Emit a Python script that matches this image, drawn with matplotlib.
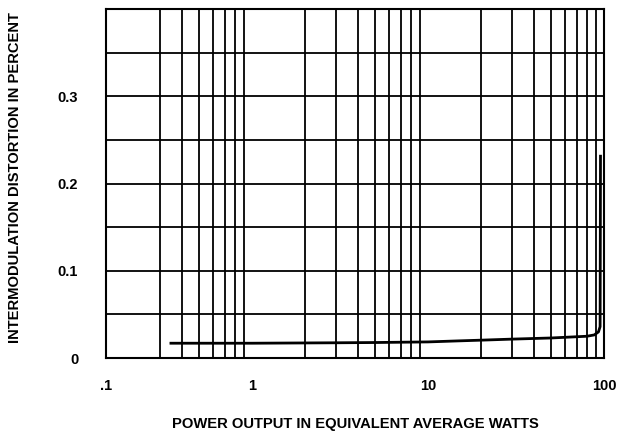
import matplotlib
matplotlib.use("Agg")
import matplotlib.pyplot as plt
from matplotlib.ticker import FixedLocator, MultipleLocator, NullFormatter

plt.rcParams['font.family'] = ['Liberation Sans', 'DejaVu Sans']

# distortion curve (watts, percent)
power_w = [0.34, 1, 3, 5, 10, 15, 20, 30, 50, 80, 88, 93, 95, 95.5]
imd_pct = [0.017, 0.017, 0.0175, 0.0178, 0.0185, 0.0197, 0.0205, 0.0217,
           0.023, 0.025, 0.0265, 0.030, 0.036, 0.233]

# the scan puts ".1" at the left edge of the paper
x_ticks = [0.148, 1, 10, 100]
x_labels = ['.1', '1', '10', '100']
x_grid = [0.3, 0.4, 0.5, 0.6, 0.7, 0.8, 0.9,
          2, 3, 4, 5, 6, 7, 8, 9,
          20, 30, 40, 50, 60, 70, 80, 90]
y_ticks = [0, 0.1, 0.2, 0.3]
y_labels = ['0', '0.1', '0.2', '0.3']

fig = plt.figure(figsize=(6.19, 4.34), dpi=100)
ax = fig.add_axes([0.1712, 0.175, 0.8046, 0.804])

ax.plot(power_w, imd_pct, color='black', lw=2.0, solid_capstyle='butt')

ax.set_xscale('log')
ax.set_xlim(0.148, 100)
ax.set_ylim(0, 0.4)

ax.xaxis.set_major_locator(FixedLocator(x_ticks))
ax.set_xticklabels(x_labels)
ax.xaxis.set_minor_locator(FixedLocator(x_grid + [1, 10]))
ax.xaxis.set_minor_formatter(NullFormatter())
ax.set_yticks(y_ticks)
ax.set_yticklabels(y_labels)
ax.yaxis.set_minor_locator(MultipleLocator(0.05))

ax.grid(axis='x', which='minor', color='black', lw=1.3)
ax.grid(axis='y', which='both', color='black', lw=1.3)
ax.tick_params(which='both', length=0)
ax.tick_params(axis='y', pad=20)
ax.tick_params(axis='x', pad=15)
for lab in ax.get_xticklabels() + ax.get_yticklabels():
    lab.set_fontweight('bold')
    lab.set_fontsize(10.5)
for s in ax.spines.values():
    s.set_linewidth(1.5)

ax.set_xlabel('POWER OUTPUT IN EQUIVALENT AVERAGE WATTS',
              fontsize=10.6, fontweight='bold')
ax.xaxis.set_label_coords(0.5, -0.168)
ax.set_ylabel('INTERMODULATION DISTORTION IN PERCENT',
              fontsize=10.6, fontweight='bold')
ax.yaxis.set_label_coords(-0.168, 0.517)

fig.savefig('out.png', dpi=100)
